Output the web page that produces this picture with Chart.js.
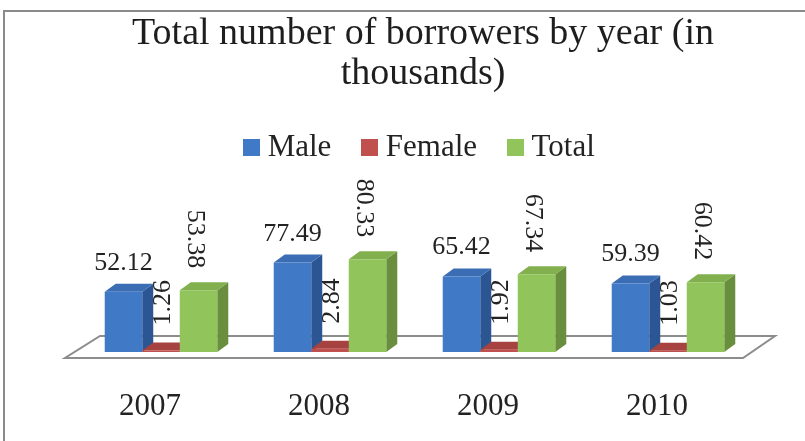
<!DOCTYPE html>
<html>
<head>
<meta charset="utf-8">
<title>Total number of borrowers by year</title>
<script src="https://cdn.jsdelivr.net/npm/chart.js@4.4.1/dist/chart.umd.min.js"></script>
<style>
  html, body { margin: 0; padding: 0; background: #ffffff; }
  #chart { display: block; }
</style>
</head>
<body>
<canvas id="chart" width="805" height="441"></canvas>
<script>
// ---- data ----
const years = ['2007', '2008', '2009', '2010'];
const seriesNames = ['Male', 'Female', 'Total'];
const maleValues = [52.12, 77.49, 65.42, 59.39];
const femaleValues = [1.26, 2.84, 1.92, 1.03];
const totalValues = [53.38, 80.33, 67.34, 60.42];
const titleLines = ['Total number of borrowers by year (in', 'thousands)'];
const valueAxisMax = 155;

// ---- styling ----
const SERIF = "'Liberation Serif', 'Times New Roman', serif";
const TEXT_COLOR = '#232323';
const faces = [
  { front: '#4079c5', side: '#2c5693', top: '#3a6db3' },
  { front: '#c0504d', side: '#873331', top: '#a6423f' },
  { front: '#92c45c', side: '#698e3e', top: '#82b04f' }
];
const labelRotation = [0, -90, 90];   // degrees per series
const DEPTH_X = 11, DEPTH_Y = -8;     // extrusion of each box

function swatch(color) {
  const c = document.createElement('canvas');
  c.width = 17; c.height = 17;
  const g = c.getContext('2d');
  g.fillStyle = color;
  g.fillRect(0, 0, 17, 17);
  return c;
}
const swatches = faces.map(f => swatch(f.front));

// white page with the chart frame (top and left rules)
const framePlugin = {
  id: 'frame',
  beforeDraw(chart) {
    const { ctx, width, height } = chart;
    ctx.save();
    ctx.fillStyle = '#ffffff';
    ctx.fillRect(0, 0, width, height);
    ctx.strokeStyle = '#8a8a8a';
    ctx.lineWidth = 2;
    ctx.beginPath();
    ctx.moveTo(4, height);
    ctx.lineTo(4, 11);
    ctx.lineTo(width, 11);
    ctx.stroke();
    ctx.restore();
  }
};

// floor plane plus the side and top faces of every bar
const box3dPlugin = {
  id: 'box3d',
  beforeDatasetsDraw(chart) {
    const { ctx, chartArea: a } = chart;
    ctx.save();
    ctx.beginPath();
    ctx.moveTo(a.left - 11.5, a.bottom + 6);
    ctx.lineTo(a.right - 9.5, a.bottom + 6);
    ctx.lineTo(a.right + 22.5, a.bottom - 16);
    ctx.lineTo(a.left + 23.5, a.bottom - 16);
    ctx.closePath();
    ctx.fillStyle = '#ffffff';
    ctx.fill();
    ctx.strokeStyle = '#8c8c8c';
    ctx.lineWidth = 2;
    ctx.stroke();

    const count = chart.data.labels.length;
    for (let i = 0; i < count; i++) {
      chart.data.datasets.forEach((ds, d) => {
        const bar = chart.getDatasetMeta(d).data[i];
        const { x, y, base, width } = bar.getProps(['x', 'y', 'base', 'width'], true);
        const l = x - width / 2, r = x + width / 2;
        ctx.beginPath();
        ctx.moveTo(r, y);
        ctx.lineTo(r + DEPTH_X, y + DEPTH_Y);
        ctx.lineTo(r + DEPTH_X, base + DEPTH_Y);
        ctx.lineTo(r, base);
        ctx.closePath();
        ctx.fillStyle = faces[d].side;
        ctx.fill();
        ctx.beginPath();
        ctx.moveTo(l, y);
        ctx.lineTo(r, y);
        ctx.lineTo(r + DEPTH_X, y + DEPTH_Y);
        ctx.lineTo(l + DEPTH_X, y + DEPTH_Y);
        ctx.closePath();
        ctx.fillStyle = faces[d].top;
        ctx.fill();
      });
    }
    ctx.restore();
  }
};

// value labels above each bar
const valueLabelPlugin = {
  id: 'valueLabels',
  afterDatasetsDraw(chart) {
    const ctx = chart.ctx;
    ctx.save();
    ctx.fillStyle = TEXT_COLOR;
    ctx.font = '26px ' + SERIF;
    chart.data.datasets.forEach((ds, d) => {
      chart.getDatasetMeta(d).data.forEach((bar, i) => {
        const text = ds.data[i].toFixed(2);
        const { x, y } = bar.getProps(['x', 'y'], true);
        const rot = labelRotation[d];
        ctx.save();
        if (rot === 0) {
          ctx.textAlign = 'center';
          ctx.textBaseline = 'alphabetic';
          ctx.fillText(text, x, y - 22);
        } else if (rot < 0) {
          ctx.translate(x + 2, y - 25);
          ctx.rotate(-Math.PI / 2);
          ctx.textAlign = 'left';
          ctx.textBaseline = 'middle';
          ctx.fillText(text, 0, 0);
        } else {
          ctx.translate(x - 4, y - 22);
          ctx.rotate(Math.PI / 2);
          ctx.textAlign = 'right';
          ctx.textBaseline = 'middle';
          ctx.fillText(text, 0, 0);
        }
        ctx.restore();
      });
    });
    ctx.restore();
  }
};

const seriesValues = [maleValues, femaleValues, totalValues];

new Chart(document.getElementById('chart'), {
  type: 'bar',
  data: {
    labels: years,
    datasets: seriesNames.map((name, k) => ({
      label: name,
      data: seriesValues[k],
      backgroundColor: faces[k].front,
      borderWidth: 0
    }))
  },
  options: {
    responsive: false,
    animation: false,
    devicePixelRatio: 1,
    layout: { padding: { left: 76.5, right: 35.5, top: 0, bottom: 0 } },
    datasets: { bar: { categoryPercentage: 0.666, barPercentage: 1 } },
    scales: {
      x: {
        position: 'bottom',
        grid: { display: false, drawTicks: false },
        border: { display: false },
        ticks: {
          font: { family: SERIF, size: 31 },
          color: TEXT_COLOR,
          padding: 36,
          labelOffset: -11,
          maxRotation: 0,
          autoSkip: false
        },
        afterFit(scale) { scale.height = 89; }
      },
      y: {
        position: 'right',
        min: 0,
        max: valueAxisMax,
        grid: { display: false, drawTicks: false },
        border: { display: false },
        ticks: { display: false },
        afterFit(scale) { scale.width = 17; }
      }
    },
    plugins: {
      title: {
        display: true,
        text: titleLines,
        color: '#1e1e1e',
        font: { family: SERIF, size: 38, weight: 'normal', lineHeight: 40 / 38 },
        padding: { top: 14, bottom: 0 }
      },
      legend: {
        display: true,
        position: 'top',
        labels: {
          font: { family: SERIF, size: 31 },
          color: TEXT_COLOR,
          padding: 38,
          usePointStyle: true,
          boxWidth: 1,
          boxHeight: 17,
          generateLabels(chart) {
            return chart.data.datasets.map((ds, i) => ({
              text: ds.label,
              fillStyle: ds.backgroundColor,
              strokeStyle: ds.backgroundColor,
              lineWidth: 0,
              pointStyle: swatches[i],
              hidden: false,
              datasetIndex: i,
              fontColor: TEXT_COLOR
            }));
          }
        }
      },
      tooltip: { enabled: false }
    }
  },
  plugins: [framePlugin, box3dPlugin, valueLabelPlugin]
});
</script>
</body>
</html>
